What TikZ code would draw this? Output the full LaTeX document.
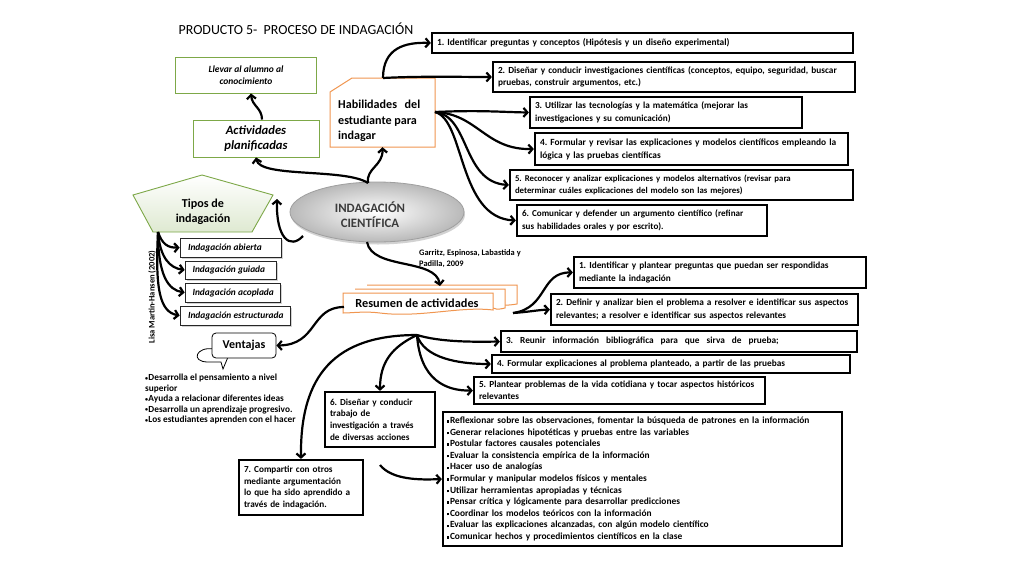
\documentclass[tikz,border=0pt]{standalone}
\usepackage{fontspec}
\setmainfont{Carlito}
\usetikzlibrary{arrows.meta,shadows,shapes.geometric,calc}
\definecolor{grn}{RGB}{125,168,72}
\definecolor{org}{RGB}{240,150,80}
\definecolor{dgray}{RGB}{60,60,60}
\newcommand\sqb{\raisebox{0.9pt}{\rule{2.4pt}{2.4pt}}\kern0.6pt}
\newcommand\smb{\raisebox{0.6pt}{\fontsize{6}{6}\selectfont•}\kern0.3pt}
\newcommand\fs[2]{\fontsize{#1}{#2}\selectfont}
\frenchspacing
\begin{document}
\begin{tikzpicture}[x=1pt,y=-1pt,
  bx/.style={draw=black, line width=2.2pt, fill=white, inner xsep=5pt, inner ysep=1pt, align=left,
    font=\bfseries\fs{9.3}{12.5}},
  ib/.style={draw=black!85, line width=0.6pt, fill=white, inner xsep=8pt, inner ysep=1pt,
    font=\bfseries\itshape\fs{9.4}{10},
    drop shadow={shadow xshift=1.5pt, shadow yshift=-1.5pt, opacity=0.35}},
  arr/.style={line width=2.2pt, -{Straight Barb[length=4pt,width=9pt]}},
  doc/.style={draw=org, line width=1pt, fill=white}
]
\useasboundingbox (0,0) rectangle (1024,576);
\fill[white] (0,0) rectangle (1024,576);

% title
\node[font=\fs{13.9}{16}] (title) at (296,29) {PRODUCTO 5-\ \ PROCESO DE INDAGACIÓN};

% left-top
\node[draw=grn, line width=0.9pt, minimum width=141pt, minimum height=36pt, align=center,
  font=\bfseries\itshape\fs{9.5}{12}] (llevar) at (246,75) {Llevar al alumno al\\conocimiento};
\node[draw=grn, line width=0.9pt, minimum width=126pt, minimum height=37pt, align=center,
  font=\bfseries\itshape\fs{12.6}{14.5}] (act) at (256,138.5) {Actividades\\planificadas};

% habilidades
\draw[draw=org, line width=1pt, fill=white] (352,78) -- (435,78) -- (435,147) -- (330,147) -- (330,92) -- cycle;
\node[minimum width=105pt, minimum height=69pt, inner sep=0pt] (hab) at (382.5,112.5) {};
\node[anchor=west, align=left, inner sep=0pt, font=\bfseries\fs{12.1}{15.5}] (habt) at (338,121)
  {\makebox[82pt][s]{Habilidades del}\\estudiante para\\indagar};

% ellipse
\node[ellipse, minimum width=174pt, minimum height=60pt, draw=gray!75, line width=0.8pt,
  inner color=white, outer color=gray!55,
  drop shadow={shadow xshift=1pt, shadow yshift=-2.5pt, opacity=0.35}] (ell) at (377,212) {};
\node[align=center, text=dgray, font=\bfseries\fs{12.8}{15}] (ellt) at (370,214.5) {INDAGACIÓN\\CIENTÍFICA};

% pentagon
\draw[draw=grn, line width=0.9pt, top color=white, bottom color=grn!25]
  (202,175) -- (273,195) -- (252,232) -- (153,232) -- (133,195) -- cycle;
\node[align=center, font=\bfseries\fs{12.1}{14.5}] (tipos) at (203,212) {Tipos de\\indagación};

% italic boxes
\node[ib, minimum height=19pt] (abierta) at (230.5,247.5) {\makebox[85pt][l]{Indagación abierta}};
\node[ib, minimum height=18pt, inner xsep=7.5pt] (guiada) at (230.5,270) {\makebox[76pt][l]{Indagación guiada}};
\node[ib, minimum height=19pt, inner xsep=7.5pt] (acoplada) at (232.5,292.5) {\makebox[80pt][l]{Indagación acoplada}};
\node[ib, minimum height=19pt] (estructurada) at (235,315.5) {\makebox[94pt][l]{Indagación estructurada}};

\node[rotate=90, font=\bfseries\fs{8.5}{10}] (lisa) at (152,297) {Lisa Martin-Hansen (2002)};

% ventajas
\draw[line width=0.8pt, fill=white] (214,349) .. controls (196,346) and (190,362) .. (208,362) -- (221,362) -- (223,369) -- (228,357);
\node[draw, line width=0.8pt, rounded corners=4pt, fill=white, minimum width=64pt, minimum height=25pt,
  font=\bfseries\fs{12}{13}] (vent) at (244,345.5) {Ventajas};
\node[anchor=north west, align=left, inner sep=0pt, font=\bfseries\fs{9.3}{10.5}] (ventlist) at (145,374)
  {\smb Desarrolla el pensamiento a nivel\\superior\\\smb Ayuda a relacionar diferentes ideas\\\smb Desarrolla un aprendizaje progresivo.\\\smb Los estudiantes aprenden con el hacer};

% Garritz
\node[anchor=west, align=left, inner sep=0pt, font=\bfseries\fs{8.4}{11}] (garritz) at (419,259)
  {Garritz, Espinosa, Labastida y\\Padilla, 2009};

% resumen multidocument
\draw[doc] (367,285) -- (517,285) -- (517,304) .. controls (505,306) and (500,305) .. (493,304);
\draw[doc] (355,289) -- (505,289) -- (505,308) .. controls (497,310) and (495,309) .. (493,308);
\draw[doc] (343,293) -- (493,293) -- (493,310) .. controls (460,306) and (420,318) .. (380,313) .. controls (365,311) and (352,313) .. (343,313) -- cycle;
\node[font=\bfseries\fs{12.3}{13}] (res) at (417,303) {Resumen de actividades};

% top right boxes
\node[bx, minimum width=421pt, minimum height=20pt, text width=411pt, font=\bfseries\fs{9.4}{12.5}] (t1) at (642.5,43)
  {\mbox{1. Identificar preguntas y conceptos (Hipótesis y un diseño experimental)}};
\node[bx, minimum width=362pt, minimum height=30pt, text width=352pt] (t2) at (674,77)
  {\mbox{2. Diseñar y conducir investigaciones científicas (conceptos, equipo, seguridad, buscar}\\\mbox{pruebas, construir argumentos, etc.)}};
\node[bx, minimum width=272pt, minimum height=31pt, text width=262pt, font=\bfseries\fs{9.2}{12.5}] (t3) at (666,112.5)
  {\mbox{3. Utilizar las tecnologías y la matemática (mejorar las}\\\mbox{investigaciones y su comunicación)}};
\node[bx, minimum width=313pt, minimum height=32pt, text width=303pt, font=\bfseries\fs{9.4}{13}] (t4) at (691.5,149)
  {\mbox{4. Formular y revisar las explicaciones y modelos científicos empleando la}\\\mbox{lógica y las pruebas científicas}};
\node[bx, minimum width=343pt, minimum height=30pt, text width=333pt, font=\bfseries\fs{8.8}{12.8}] (t5) at (681.5,185)
  {\mbox{5. Reconocer y analizar explicaciones y modelos alternativos (revisar para}\\\mbox{determinar cuáles explicaciones del modelo son las mejores)}};
\node[bx, minimum width=250pt, minimum height=31pt, text width=240pt, font=\bfseries\fs{9.1}{13}] (t6) at (642,220.5)
  {\mbox{6. Comunicar y defender un argumento científico (refinar}\\\mbox{sus habilidades orales y por escrito).}};

% lower right boxes
\node[bx, minimum width=292pt, minimum height=31pt, text width=282pt] (l1) at (720,272.5)
  {\mbox{1. Identificar y plantear preguntas que puedan ser respondidas}\\\mbox{mediante la indagación}};
\node[bx, minimum width=307pt, minimum height=31pt, text width=297pt] (l2) at (704.5,309.5)
  {\mbox{2. Definir y analizar bien el problema a resolver e identificar sus aspectos}\\\mbox{relevantes; a resolver e identificar sus aspectos relevantes}};
\node[bx, minimum width=356pt, minimum height=21pt, text width=346pt] (l3) at (679,341.5)
  {\mbox{\spaceskip=7pt\relax 3. Reunir información bibliográfica para que sirva de prueba;}};
\node[bx, minimum width=358pt, minimum height=18pt, text width=348pt] (l4) at (671,364)
  {\mbox{4. Formular explicaciones al problema planteado, a partir de las pruebas}};
\node[bx, minimum width=291pt, minimum height=27pt, text width=281pt] (l5) at (619.5,390.5)
  {\mbox{5. Plantear problemas de la vida cotidiana y tocar aspectos históricos}\\\mbox{relevantes}};
\node[bx, minimum width=110pt, minimum height=55pt, text width=100pt, font=\bfseries\fs{9.2}{11.7}] (l6) at (380,419.5)
  {6. Diseñar y conducir\\trabajo de\\investigación a través\\de diversas acciones};
\node[bx, minimum width=124pt, minimum height=55pt, text width=114pt, font=\bfseries\fs{9.2}{11.6}] (l7) at (301,487.5)
  {7. Compartir con otros\\mediante argumentación\\lo que ha sido aprendido a\\través de indagación.};
\node[bx, minimum width=399pt, minimum height=134pt, text width=391pt, inner xsep=4pt, font=\bfseries\fs{9.4}{11.6}] (big) at (642.5,479)
  {\sqb Reflexionar sobre las observaciones, fomentar la búsqueda de patrones en la información\\
   \sqb Generar relaciones hipotéticas y pruebas entre las variables\\
   \sqb Postular factores causales potenciales\\
   \sqb Evaluar la consistencia empírica de la información\\
   \sqb Hacer uso de analogías\\
   \sqb Formular y manipular modelos físicos y mentales\\
   \sqb Utilizar herramientas apropiadas y técnicas\\
   \sqb Pensar crítica y lógicamente para desarrollar predicciones\\
   \sqb Coordinar los modelos teóricos con la información\\
   \sqb Evaluar las explicaciones alcanzadas, con algún modelo científico\\
   \sqb Comunicar hechos y procedimientos científicos en la clase};

% connector anchor points
\coordinate (ellTop) at (368,183);
\coordinate (habTop) at (383,78);
\coordinate (habR) at (435,112);
\coordinate (ellL) at (303,236);
\coordinate (tipsR) at (277,199);
\coordinate (ellB) at (367,242);
\coordinate (resTop) at (440,286);
\coordinate (tipsBL) at (158,232);
\coordinate (resL) at (344,307);
\coordinate (resR) at (513,313);
\coordinate (fan) at (417,335);
\coordinate (l6out) at (380,465);

% connectors
\draw[arr] (ellTop) .. controls (366,168) and (383,166) .. (hab.south);
\draw[arr] (ellTop) .. controls (345,168) and (260,178) .. (act.south);
\draw[arr] ([xshift=6pt]act.north) .. controls (262,108) and (252,106) .. ([xshift=5pt]llevar.south);
\draw[arr] (habTop) .. controls (383,48) and (405,42) .. (t1.west);
\draw[arr] (habTop) .. controls (420,76) and (460,77) .. (t2.west);
\draw[arr] (habR) .. controls (480,110) and (500,112) .. (t3.west);
\draw[arr] (habR) .. controls (478,114) and (485,150) .. (t4.west);
\draw[arr] (habR) .. controls (470,116) and (462,182) .. (t5.west);
\draw[arr] (habR) .. controls (465,120) and (458,218) .. (t6.west);
\draw[arr] (ellL) .. controls (290,250) and (276,238) .. (tipsR);
\draw[arr] (ellB) .. controls (372,270) and (436,258) .. (resTop);
\draw[arr] (tipsBL) .. controls (162,244) and (168,248) .. (abierta.west);
\draw[arr] (tipsBL) .. controls (160,258) and (170,268) .. (guiada.west);
\draw[arr] (tipsBL) .. controls (158,275) and (168,290) .. (acoplada.west);
\draw[arr] (tipsBL) .. controls (155,290) and (160,312) .. (estructurada.west);
\draw[arr] (resL) .. controls (310,307) and (318,345) .. (vent.east);
\draw[arr] (resR) .. controls (548,308) and (540,272) .. (l1.west);
\draw[arr] (resR) .. controls (528,312) and (538,310) .. (l2.west);
\draw[arr] (fan) .. controls (440,342) and (472,342) .. (l3.west);
\draw[arr] (fan) .. controls (424,358) and (458,364) .. (l4.west);
\draw[arr] (fan) .. controls (420,380) and (446,391) .. (l5.west);
\draw[arr] (fan) .. controls (392,347) and (380,362) .. (l6.north);
\draw[arr] (fan) .. controls (335,335) and (300,375) .. (l7.north);
\draw[arr] (l6out) .. controls (392,480) and (420,480) .. (big.west);
\end{tikzpicture}
\end{document}
